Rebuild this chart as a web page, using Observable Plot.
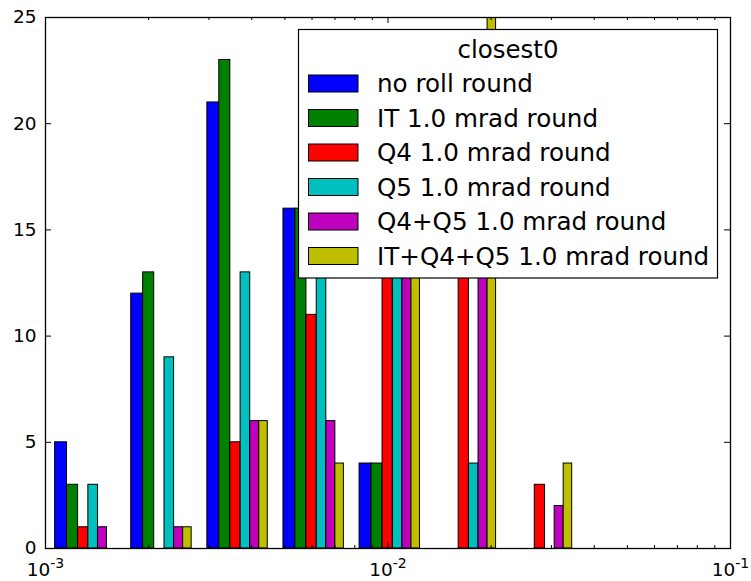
<!DOCTYPE html>
<html>
<head>
<meta charset="utf-8">
<script src="https://cdn.jsdelivr.net/npm/d3@7"></script>
<script src="https://cdn.jsdelivr.net/npm/@observablehq/plot@0.6"></script>
<style>
  body { margin: 0; background: #fff; }
  #chart { width: 751px; height: 581px; }
  #chart svg { font-family: "DejaVu Sans", sans-serif; }
  #chart svg g[aria-label="y-axis tick label"],
  #chart svg g[aria-label="x-axis tick label"] { font-size: 18.5px; }
</style>
</head>
<body>
<div id="chart"></div>
<script>
// Log-spaced histogram bin edges (10 edges, 9 bins from 1e-3 to 1e-1)
const binEdges = [0.001, 0.001668, 0.002783, 0.004642, 0.007743, 0.012915, 0.021544, 0.035938, 0.059948, 0.1];

const seriesNames = [
  "no roll round",
  "IT 1.0 mrad round",
  "Q4 1.0 mrad round",
  "Q5 1.0 mrad round",
  "Q4+Q5 1.0 mrad round",
  "IT+Q4+Q5 1.0 mrad round"
];
const seriesColors = ["#0000ff", "#008000", "#ff0000", "#00bfbf", "#bf00bf", "#bfbf00"];

// Counts per bin for each series
const noRoll    = [5, 12, 21, 16, 4, 0, 0, 0, 0];
const itRoll    = [3, 13, 23, 16, 4, 0, 0, 0, 0];
const q4Roll    = [1, 0, 5, 11, 16, 23, 3, 0, 0];
const q5Roll    = [3, 9, 13, 14, 16, 4, 0, 0, 0];
const q4q5Roll  = [1, 1, 6, 6, 19, 24, 2, 0, 0];
const itq4q5Roll = [0, 1, 6, 4, 17, 27, 4, 0, 0];
const seriesCounts = [noRoll, itRoll, q4Roll, q5Roll, q4q5Roll, itq4q5Roll];

const legendTitle = "closest0";
const yTicks = [0, 5, 10, 15, 20, 25];
const xMajor = [0.001, 0.01, 0.1];
const xMinor = [0.002, 0.003, 0.004, 0.005, 0.006, 0.007, 0.008, 0.009,
                0.02, 0.03, 0.04, 0.05, 0.06, 0.07, 0.08, 0.09];
const xTickExponents = ["-3", "-2", "-1"];

// Side-by-side bars inside each bin (linear spacing within the bin, 80% of bin width)
const nSeries = seriesCounts.length;
const bars = [];
for (let i = 0; i < binEdges.length - 1; i++) {
  const lo = binEdges[i], w = binEdges[i + 1] - binEdges[i];
  const bw = 0.8 * w / nSeries;
  seriesCounts.forEach((counts, k) => {
    const x1 = lo + 0.1 * w + k * bw;
    bars.push({series: seriesNames[k], x1, x2: x1 + bw, count: counts[i]});
  });
}

const W = 751, H = 581;
const mL = 45, mR = 21, mT = 17, mB = 33;
const plotW = W - mL - mR, plotH = H - mT - mB;
const majorLen = 6, minorLen = 3;

const chart = Plot.plot({
  width: W,
  height: H,
  marginLeft: mL,
  marginRight: mR,
  marginTop: mT,
  marginBottom: mB,
  style: {fontFamily: "DejaVu Sans, sans-serif", background: "white"},
  x: {type: "log", domain: [0.001, 0.1], label: null},
  y: {domain: [0, 25], label: null},
  color: {domain: seriesNames, range: seriesColors},
  marks: [
    Plot.rect(bars.filter(d => d.count > 0), {
      x1: "x1", x2: "x2", y1: 0, y2: "count",
      fill: "series", stroke: "black", strokeWidth: 1, clip: true
    }),
    // inward ticks on all four sides
    Plot.tickX(xMajor, {x: d => d, insetTop: plotH - majorLen, stroke: "black"}),
    Plot.tickX(xMajor, {x: d => d, insetBottom: plotH - majorLen, stroke: "black"}),
    Plot.tickX(xMinor, {x: d => d, insetTop: plotH - minorLen, stroke: "black"}),
    Plot.tickX(xMinor, {x: d => d, insetBottom: plotH - minorLen, stroke: "black"}),
    Plot.tickY(yTicks, {y: d => d, insetRight: plotW - majorLen, stroke: "black"}),
    Plot.tickY(yTicks, {y: d => d, insetLeft: plotW - majorLen, stroke: "black"}),
    Plot.axisY({ticks: yTicks, tickSize: 0, tickPadding: 9, fontSize: 18.5, fill: "black", label: null}),
    Plot.axisX({ticks: xMajor, tickSize: 0, tickPadding: 14, fontSize: 18.5, fill: "black", label: null,
                tickFormat: d => "10"}),
    Plot.frame({stroke: "black", strokeWidth: 1.3})
  ]
});

document.getElementById("chart").appendChild(chart);

const svg = d3.select(chart);

// superscript exponents on the log-axis labels
svg.selectAll('g[aria-label="x-axis tick label"] text').each(function (d, i) {
  const t = d3.select(this);
  t.text(null);
  t.append("tspan").text("10");
  t.append("tspan").attr("dy", "-0.55em").attr("font-size", 14).text(xTickExponents[i]);
});

// legend box inside the plot area
const lg = svg.append("g")
  .attr("font-family", "DejaVu Sans, sans-serif")
  .attr("text-anchor", "start");
const lx = 298.5, ly = 29.5, lw = 419, lh = 248.5;
lg.append("rect").attr("x", lx).attr("y", ly).attr("width", lw).attr("height", lh)
  .attr("fill", "white").attr("stroke", "black").attr("stroke-width", 1.2);
lg.append("text").attr("x", lx + lw / 2).attr("y", 58).attr("text-anchor", "middle")
  .attr("font-size", 24.5).attr("fill", "black").text(legendTitle);
seriesNames.forEach((name, i) => {
  const rowY = 75 + i * 34.5;
  lg.append("rect").attr("x", 308.5).attr("y", rowY).attr("width", 49.5).attr("height", 17)
    .attr("fill", seriesColors[i]).attr("stroke", "black").attr("stroke-width", 1);
  lg.append("text").attr("x", 377).attr("y", rowY + 17).attr("font-size", 24.6)
    .attr("text-anchor", "start").attr("fill", "black").text(name);
});
</script>
</body>
</html>
